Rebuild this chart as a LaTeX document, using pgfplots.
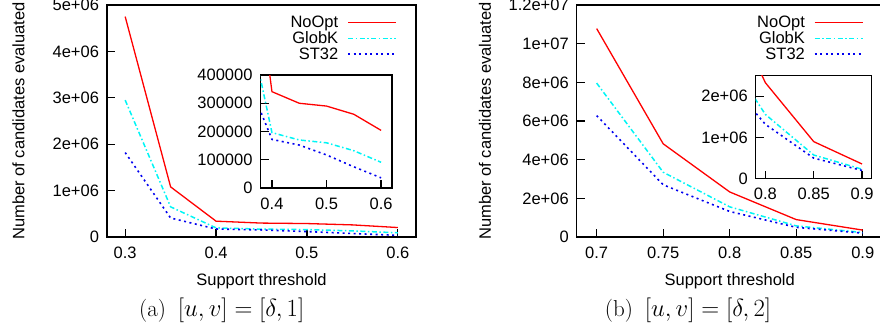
\documentclass[border=0pt]{standalone}
\usepackage{fontspec}
\usepackage{pgfplots}
\pgfplotsset{compat=1.18}
\newfontfamily\sansf{Liberation Sans}
\definecolor{gpred}{RGB}{255,0,0}
\definecolor{gpcyan}{RGB}{0,245,245}
\definecolor{gpblue}{RGB}{0,0,240}
\newcommand{\gpfont}{\sansf\fontsize{16.5bp}{19bp}\selectfont}
\tikzset{
  noopt/.style={color=gpred, line width=1.3bp, solid},
  globk/.style={color=gpcyan, line width=1.5bp, dash pattern=on 5bp off 2.5bp on 1.5bp off 2.5bp},
  st32/.style={color=gpblue, line width=1.6bp, dash pattern=on 2bp off 3.5bp},
}
\pgfplotsset{
  gp/.style={
    scale only axis, anchor=south west,
    axis line style={line width=1.2bp, black},
    tick align=inside, xtick pos=lower, ytick pos=left,
    major tick length=8bp,
    every tick/.style={line width=1.2bp, black},
    tick label style={font=\gpfont},
    /pgf/number format/assume math mode=true,
    scaled x ticks=false, scaled y ticks=false,
    xticklabel style={yshift=-6bp},
    yticklabel style={xshift=-4.5bp},
  },
  gplegend/.style={
    legend cell align=right,
    legend plot pos=right,
    legend image code/.code={\draw[##1] (0bp,0bp) -- (48bp,0bp);},
    legend style={draw=none, fill=none, inner sep=0pt, font=\gpfont,
      column sep=7bp, row sep=-1.5bp,
      at={(rel axis cs:1,1)}, anchor=north east},
  },
}
\begin{document}
\begin{tikzpicture}[x=1bp,y=1bp]
% ---------- (a) main
\begin{axis}[gp, gplegend, at={(107bp,92bp)}, width=309bp, height=232bp,
  xmin=0.28, xmax=0.62, ymin=0, ymax=5000000,
  xtick={0.3,0.4,0.5,0.6}, xticklabels={0.3,0.4,0.5,0.6},
  ytick={0,1000000,2000000,3000000,4000000,5000000},
  yticklabels={0,1e+06,2e+06,3e+06,4e+06,5e+06},
  legend style={xshift=-19bp, yshift=-9bp}]
\addplot[noopt] coordinates {(0.3,4750000) (0.35,1080000) (0.4,341000) (0.45,300000) (0.5,290000) (0.55,261000) (0.6,204000)};
\addplot[globk] coordinates {(0.3,2950000) (0.35,650000) (0.4,196000) (0.45,170000) (0.5,160000) (0.55,132000) (0.6,91000)};
\addplot[st32] coordinates {(0.3,1820000) (0.35,410000) (0.4,172000) (0.45,152000) (0.5,117000) (0.55,75000) (0.6,36000)};
\legend{NoOpt,GlobK,ST32}
\end{axis}
% ---------- (a) inset
\begin{axis}[gp, at={(260.5bp,141bp)}, width=131.5bp, height=113bp,
  xmin=0.379, xmax=0.62, ymin=0, ymax=400000,
  xtick={0.4,0.5,0.6}, xticklabels={0.4,0.5,0.6},
  ytick={0,100000,200000,300000,400000},
  yticklabels={0,100000,200000,300000,400000}]
\addplot[noopt] coordinates {(0.35,1080000) (0.4,341000) (0.45,300000) (0.5,290000) (0.55,261000) (0.6,204000)};
\addplot[globk] coordinates {(0.35,650000) (0.4,196000) (0.45,170000) (0.5,160000) (0.55,132000) (0.6,91000)};
\addplot[st32] coordinates {(0.35,410000) (0.4,172000) (0.45,152000) (0.5,117000) (0.55,75000) (0.6,36000)};
\end{axis}
% ---------- (b) main
\begin{axis}[gp, gplegend, at={(576.7bp,92bp)}, width=306bp, height=232bp,
  xmin=0.685, xmax=0.915, ymin=0, ymax=12000000,
  xtick={0.7,0.75,0.8,0.85,0.9}, xticklabels={0.7,0.75,0.8,0.85,0.9},
  ytick={0,2000000,4000000,6000000,8000000,10000000,12000000},
  yticklabels={0,2e+06,4e+06,6e+06,8e+06,1e+07,1.2e+07},
  legend style={xshift=-19bp, yshift=-9bp}]
\addplot[noopt] coordinates {(0.7,10780000) (0.75,4820000) (0.8,2330000) (0.85,900000) (0.9,357000)};
\addplot[globk] coordinates {(0.7,7960000) (0.75,3350000) (0.8,1560000) (0.85,575000) (0.9,230000)};
\addplot[st32] coordinates {(0.7,6280000) (0.75,2700000) (0.8,1320000) (0.85,500000) (0.9,200000)};
\legend{NoOpt,GlobK,ST32}
\end{axis}
% ---------- (b) inset
\begin{axis}[gp, at={(755.7bp,150.3bp)}, width=116bp, height=103.4bp,
  xmin=0.79, xmax=0.91, ymin=0, ymax=2510000,
  xtick={0.8,0.85,0.9}, xticklabels={0.8,0.85,0.9},
  ytick={0,1000000,2000000}, yticklabels={0,1e+06,2e+06}]
\addplot[noopt] coordinates {(0.75,4820000) (0.8,2330000) (0.85,900000) (0.9,357000)};
\addplot[globk] coordinates {(0.75,3350000) (0.8,1560000) (0.85,575000) (0.9,230000)};
\addplot[st32] coordinates {(0.75,2700000) (0.8,1320000) (0.85,500000) (0.9,200000)};
\end{axis}
% ---------- labels
\node[font=\gpfont, rotate=90] at (18.5,208) {Number of candidates evaluated};
\node[font=\gpfont, rotate=90] at (485,208) {Number of candidates evaluated};
\node[font=\gpfont, anchor=base] at (261.5,44) {Support threshold};
\node[font=\gpfont, anchor=base] at (729.7,44) {Support threshold};
\node[font=\fontsize{23bp}{28bp}\selectfont, anchor=base] at (221.7,13) {(a)\hspace{12bp}$[u,v]=[\delta,1]$};
\node[font=\fontsize{23bp}{28bp}\selectfont, anchor=base] at (688,13) {(b)\hspace{12bp}$[u,v]=[\delta,2]$};
\pgfresetboundingbox
\path[use as bounding box] (0,0) rectangle (880,329);
\end{tikzpicture}
\end{document}
